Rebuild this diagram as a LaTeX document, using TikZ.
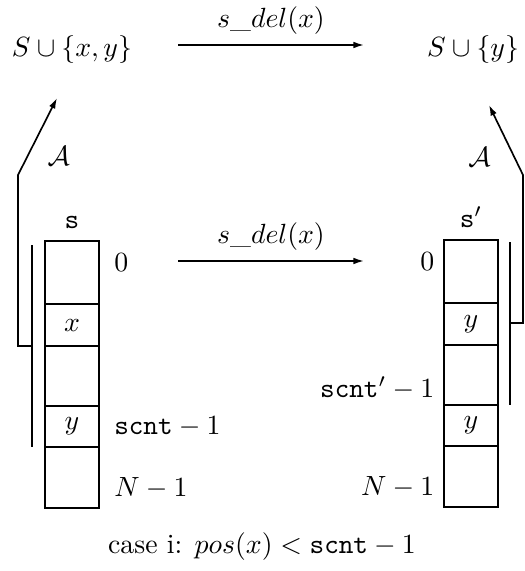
\documentclass[tikz,border=0pt]{standalone}
\usepackage{amsmath,amssymb}
\usetikzlibrary{arrows.meta,positioning}

\begin{document}
\begin{tikzpicture}[x=0.36pt,y=-0.36pt,
  cell/.style={rectangle,draw,semithick,minimum width=19.4pt,inner sep=0pt,outer sep=0pt},
  a/.style={-{Latex[length=3.8pt,width=2.4pt]},semithick},
  l/.style={semithick}
]
\useasboundingbox (0,0) rectangle (525,571);

% sets on top
\node (set) at (72,50) {$S\cup\{x,y\}$};
\node (setp) at (473,50) {$S\cup\{y\}$};
\coordinate (d1) at (178,45);
\coordinate (d2) at (364,45);
\draw[a] (d1) -- node[above] {$s\_del(x)$} (d2);

% array s
\node[cell,anchor=north west,minimum height=22.7pt] (s0) at (45,241) {};
\node[cell,below=0pt of s0,minimum height=15.1pt] (sx) {$x$};
\node[cell,below=0pt of sx,minimum height=21.6pt] (s2) {};
\node[cell,below=0pt of s2,minimum height=14.8pt] (sy) {$y$};
\node[cell,below=0pt of sy,minimum height=22pt] (sN) {};
\node[above=1pt of s0] (sname) {$\mathtt{s}$};
\node[right=2pt of s0,yshift=3.6pt] {$0$};
\node[right=2pt of sy] {$\mathtt{scnt}-1$};
\node[right=2pt of sN,yshift=-3.6pt] {$N-1$};

% array s'
\node[cell,anchor=north west,minimum height=22.7pt] (t0) at (444,240) {};
\node[cell,below=0pt of t0,minimum height=15.1pt] (ty) {$y$};
\node[cell,below=0pt of ty,minimum height=21.6pt] (t2) {};
\node[cell,below=0pt of t2,minimum height=14.8pt] (ty2) {$y$};
\node[cell,below=0pt of ty2,minimum height=22pt] (tN) {};
\node[above=1pt of t0] (tname) {$\mathtt{s}'$};
\node[left=0pt of t0,yshift=3.6pt] {$0$};
\node[left=0pt of t2,yshift=-4.7pt] {$\mathtt{scnt}'-1$};
\node[left=0pt of tN,yshift=-3.6pt] {$N-1$};

\coordinate (m1) at (178,261);
\coordinate (m2) at (364,261);
\draw[a] (m1) -- node[above] {$s\_del(x)$} (m2);

% abstraction arrows
\coordinate (la) at (32,245);
\coordinate (lb) at (32,447);
\coordinate (lc) at (32,346);
\coordinate (ld) at (18,346);
\coordinate (le) at (18,175);
\coordinate (lf) at (57,98);
\draw[l] (la) -- (lb);
\draw[a] (lc) -- (ld) -- (le) -- node[right=3.5pt,pos=0.25] {$\mathcal{A}$} (lf);

\coordinate (ra) at (510,242);
\coordinate (rb) at (510,405);
\coordinate (rc) at (510,323);
\coordinate (rd) at (523,323);
\coordinate (re) at (523,175);
\coordinate (rf) at (489,105);
\draw[l] (ra) -- (rb);
\draw[a] (rc) -- (rd) -- (re) -- node[left=5pt,pos=0.25] {$\mathcal{A}$} (rf);

\node (cap) at (262,547) {case i: $pos(x) < \mathtt{scnt}-1$};
\end{tikzpicture}
\end{document}
